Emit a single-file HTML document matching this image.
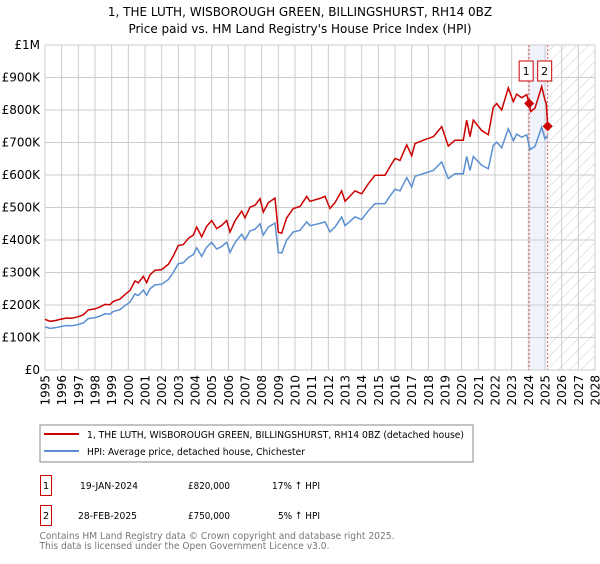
<!DOCTYPE html>
<html><head><meta charset="utf-8"><style>
body{margin:0;background:#fff;font-family:"DejaVu Sans","Liberation Sans",sans-serif;}
svg text{font-family:"DejaVu Sans","Liberation Sans",sans-serif;}
</style></head><body>
<svg id="chart" width="600" height="560" viewBox="0 0 600 560" xmlns="http://www.w3.org/2000/svg">
<defs>
<pattern id="hatch" width="8" height="8" patternUnits="userSpaceOnUse" patternTransform="rotate(45)">
<line x1="0" y1="0" x2="0" y2="8" stroke="#ccc" stroke-width="1"/>
</pattern>
</defs>
<text x="300" y="16" text-anchor="middle" font-size="12">1, THE LUTH, WISBOROUGH GREEN, BILLINGSHURST, RH14 0BZ</text>
<text x="300" y="33" text-anchor="middle" font-size="12">Price paid vs. HM Land Registry's House Price Index (HPI)</text>
<g id="plot"></g>
<rect x="40" y="425" width="433" height="37" fill="#fff" stroke="#888"/>
<line x1="44" y1="434" x2="79" y2="434" stroke="#cc0000" stroke-width="2"/>
<text x="87" y="438" font-size="10" textLength="377" lengthAdjust="spacingAndGlyphs">1, THE LUTH, WISBOROUGH GREEN, BILLINGSHURST, RH14 0BZ (detached house)</text>
<line x1="44" y1="451" x2="79" y2="451" stroke="#5b8fd0" stroke-width="2"/>
<text x="87" y="455" font-size="10" textLength="218" lengthAdjust="spacingAndGlyphs">HPI: Average price, detached house, Chichester</text>
<rect x="40.5" y="475.5" width="11" height="20" fill="#fff" stroke="#cc0000"/>
<text x="46" y="489" text-anchor="middle" font-size="10">1</text>
<text x="80" y="489" font-size="10" textLength="58" lengthAdjust="spacingAndGlyphs">19-JAN-2024</text>
<text x="188" y="489" font-size="10" textLength="42" lengthAdjust="spacingAndGlyphs">£820,000</text>
<text x="272" y="489" font-size="10" textLength="48" lengthAdjust="spacingAndGlyphs">17% ↑ HPI</text>
<rect x="40.5" y="505.5" width="11" height="20" fill="#fff" stroke="#cc0000"/>
<text x="46" y="519" text-anchor="middle" font-size="10">2</text>
<text x="78" y="519" font-size="10" textLength="59" lengthAdjust="spacingAndGlyphs">28-FEB-2025</text>
<text x="188" y="519" font-size="10" textLength="42" lengthAdjust="spacingAndGlyphs">£750,000</text>
<text x="278" y="519" font-size="10" textLength="42" lengthAdjust="spacingAndGlyphs">5% ↑ HPI</text>
<text x="39.5" y="539" font-size="10" fill="#777" textLength="355" lengthAdjust="spacingAndGlyphs">Contains HM Land Registry data © Crown copyright and database right 2025.</text>
<text x="39.5" y="549" font-size="10" fill="#777" textLength="290" lengthAdjust="spacingAndGlyphs">This data is licensed under the Open Government Licence v3.0.</text>
</svg>
<script>
const hpiSeries = [[1995.0,133],[1995.3,128],[1995.6,130],[1996.0,134],[1996.3,137],[1996.6,136],[1997.0,140],[1997.3,145],[1997.6,158],[1998.0,161],[1998.3,166],[1998.6,173],[1998.9,172],[1999.1,180],[1999.5,186],[1999.8,198],[2000.1,209],[2000.4,234],[2000.6,229],[2000.9,246],[2001.1,230],[2001.3,250],[2001.6,262],[2002.0,264],[2002.4,278],[2002.7,300],[2003.0,327],[2003.3,330],[2003.6,346],[2003.9,355],[2004.1,376],[2004.4,350],[2004.7,378],[2005.0,393],[2005.3,372],[2005.6,380],[2005.9,393],[2006.1,362],[2006.4,392],[2006.8,418],[2007.0,400],[2007.3,428],[2007.6,433],[2007.9,450],[2008.1,415],[2008.4,440],[2008.8,452],[2009.0,362],[2009.2,360],[2009.5,400],[2009.9,425],[2010.3,430],[2010.7,456],[2010.9,444],[2011.5,451],[2011.8,456],[2012.1,425],[2012.4,440],[2012.8,471],[2013.0,444],[2013.6,471],[2014.0,463],[2014.4,490],[2014.8,512],[2015.4,512],[2015.7,535],[2016.0,556],[2016.3,551],[2016.7,592],[2017.0,563],[2017.2,596],[2017.8,606],[2018.3,614],[2018.8,640],[2019.2,589],[2019.6,604],[2020.1,604],[2020.3,657],[2020.5,614],[2020.7,657],[2021.2,630],[2021.6,619],[2021.9,691],[2022.1,701],[2022.4,684],[2022.8,742],[2023.1,706],[2023.3,726],[2023.6,716],[2023.9,724],[2024.1,678],[2024.4,688],[2024.8,747],[2025.0,711],[2025.16,722]];
const propertySeries = [[1995.0,156],[1995.3,150],[1995.6,152],[1996.0,157],[1996.3,160],[1996.6,159],[1997.0,164],[1997.3,170],[1997.6,185],[1998.0,188],[1998.3,194],[1998.6,202],[1998.9,201],[1999.1,211],[1999.5,218],[1999.8,232],[2000.1,245],[2000.4,274],[2000.6,268],[2000.9,288],[2001.1,269],[2001.3,293],[2001.6,307],[2002.0,309],[2002.4,325],[2002.7,351],[2003.0,383],[2003.3,386],[2003.6,405],[2003.9,415],[2004.1,440],[2004.4,410],[2004.7,442],[2005.0,460],[2005.3,435],[2005.6,445],[2005.9,460],[2006.1,424],[2006.4,459],[2006.8,489],[2007.0,468],[2007.3,501],[2007.6,507],[2007.9,527],[2008.1,486],[2008.4,515],[2008.8,529],[2009.0,424],[2009.2,421],[2009.5,468],[2009.9,497],[2010.3,503],[2010.7,534],[2010.9,519],[2011.5,528],[2011.8,534],[2012.1,497],[2012.4,515],[2012.8,551],[2013.0,519],[2013.6,551],[2014.0,542],[2014.4,573],[2014.8,599],[2015.4,599],[2015.7,626],[2016.0,651],[2016.3,645],[2016.7,693],[2017.0,659],[2017.2,697],[2017.8,709],[2018.3,718],[2018.8,749],[2019.2,689],[2019.6,707],[2020.1,707],[2020.3,769],[2020.5,718],[2020.7,769],[2021.2,737],[2021.6,724],[2021.9,808],[2022.1,820],[2022.4,800],[2022.8,868],[2023.1,826],[2023.3,849],[2023.6,838],[2023.9,847],[2024.05,820],[2024.15,795],[2024.4,806],[2024.8,872],[2025.0,830],[2025.08,820],[2025.16,750]];
const saleYears = [2024.05, 2025.16];
const salePrices = [820, 750];
const saleLabels = ["1", "2"];
const yTicks = [0,100,200,300,400,500,600,700,800,900,1000];
const yTickLabels = ["£0","£100K","£200K","£300K","£400K","£500K","£600K","£700K","£800K","£900K","£1M"];
const xTicks = [1995,1996,1997,1998,1999,2000,2001,2002,2003,2004,2005,2006,2007,2008,2009,2010,2011,2012,2013,2014,2015,2016,2017,2018,2019,2020,2021,2022,2023,2024,2025,2026,2027,2028];

const L=45,R=595,T=45,B=370;
const xs=y=>L+(y-1995)/(2028-1995)*(R-L);
const ys=v=>B-v/1000*(B-T);
const NS="http://www.w3.org/2000/svg";
const g=document.getElementById('plot');
function mk(tag,attrs){const e=document.createElementNS(NS,tag);for(const k in attrs)e.setAttribute(k,attrs[k]);g.appendChild(e);return e;}

let e;
e=mk('rect',{x:xs(saleYears[0]),y:T,width:xs(saleYears[1])-xs(saleYears[0]),height:B-T,fill:'#eef3fc'});


e=mk('rect',{x:xs(saleYears[1]),y:T,width:R-xs(saleYears[1]),height:B-T,fill:'url(#hatch)'});


yTicks.forEach((v,i)=>{
  e=mk('line',{x1:L,x2:R,y1:ys(v),y2:ys(v),stroke:'#cccccc','stroke-width':1});
  
  
  e=mk('text',{x:40,y:ys(v)+4,'text-anchor':'end','font-size':12});
  e.textContent=yTickLabels[i];
  
  
});
xTicks.forEach(yr=>{
  e=mk('line',{x1:xs(yr),x2:xs(yr),y1:T,y2:B,stroke:'#cccccc','stroke-width':1});
  
  
  e=mk('text',{x:0,y:0,'text-anchor':'end','font-size':12,transform:`translate(${xs(yr)+4.5},375) rotate(-90)`});
  e.textContent=yr;
  
  
});
saleYears.forEach((yr,i)=>{
  e=mk('line',{x1:xs(yr),x2:xs(yr),y1:T,y2:B,stroke:'#e06060','stroke-width':1,'stroke-dasharray':'2,2'});
  
  
});
const path=(s)=>s.map((p,i)=>(i?'L':'M')+xs(p[0]).toFixed(1)+','+ys(p[1]).toFixed(1)).join('');
e=mk('path',{d:path(hpiSeries),fill:'none',stroke:'#5b8fd0','stroke-width':1.5});


e=mk('path',{d:path(propertySeries),fill:'none',stroke:'#cc0000','stroke-width':1.5});


saleYears.forEach((yr,i)=>{
  const cx=xs(yr),cy=ys(salePrices[i]);
  e=mk('path',{d:`M${cx},${cy-5}L${cx+5},${cy}L${cx},${cy+5}L${cx-5},${cy}Z`,fill:'#cc0000'});
  
  
  const bx=cx-10;
  e=mk('rect',{x:bx,y:61,width:14,height:20,fill:'#fff',stroke:'#cc0000'});
  
  
  e=mk('text',{x:bx+7,y:75,'text-anchor':'middle','font-size':11});
  e.textContent=saleLabels[i];
  
  
});
</script>
</body></html>
